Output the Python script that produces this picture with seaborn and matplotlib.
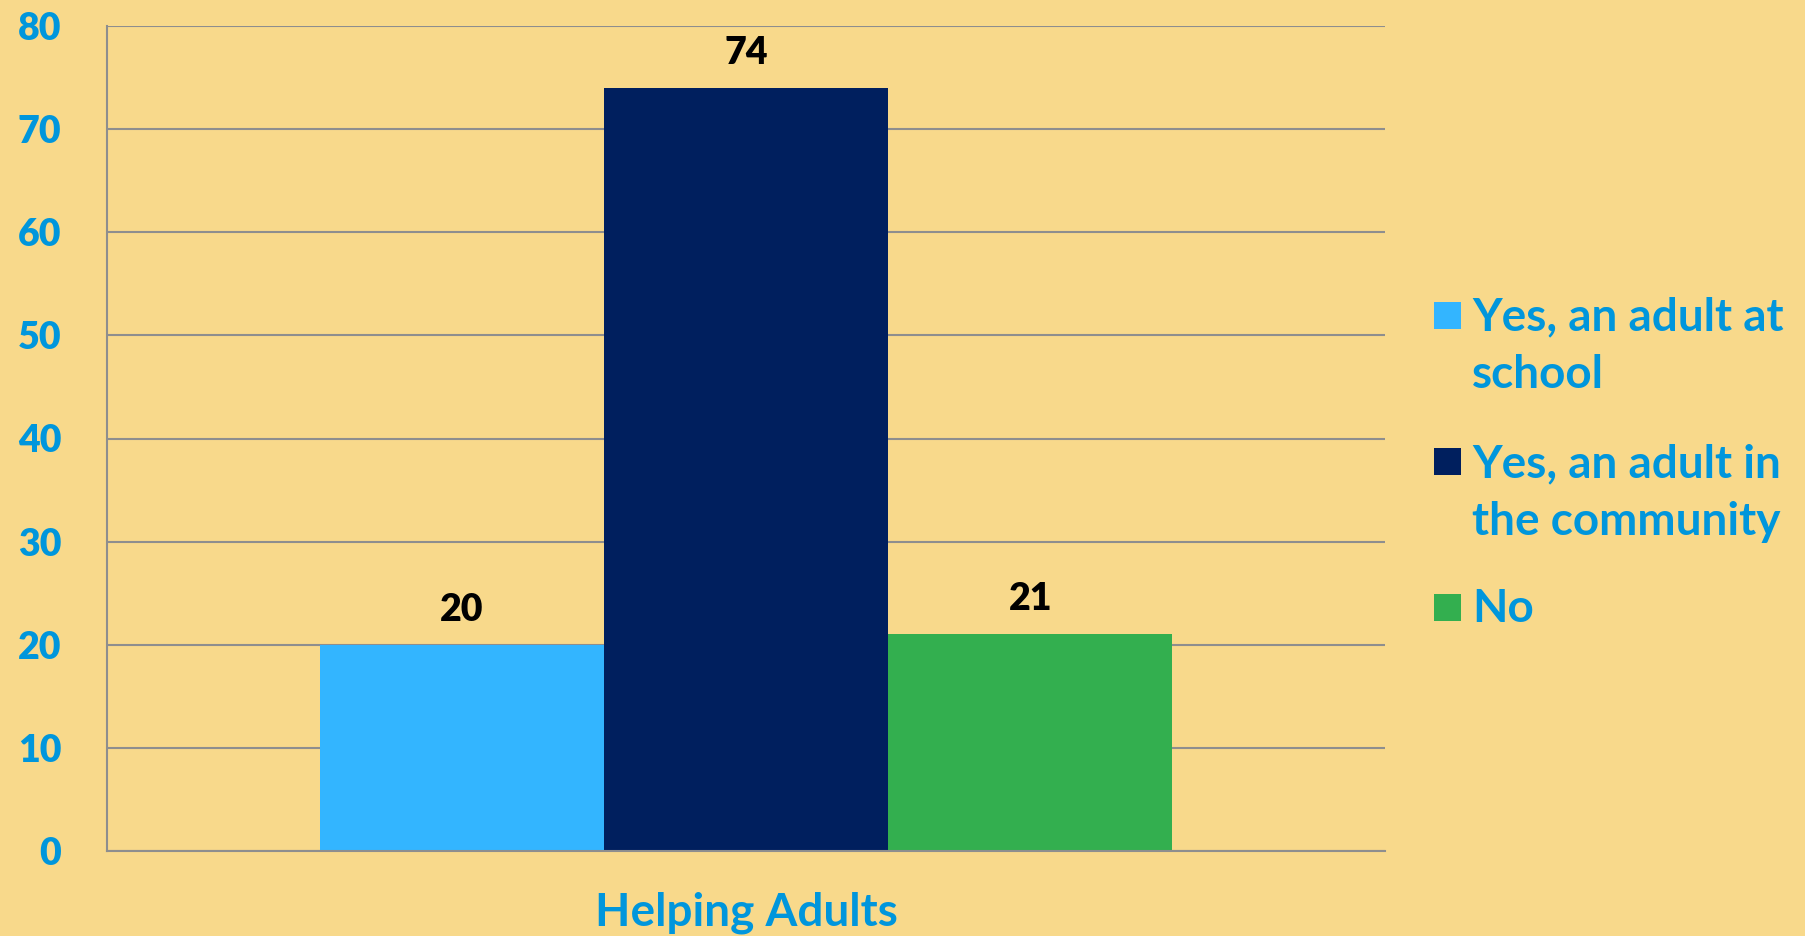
import matplotlib
matplotlib.use("Agg")
import matplotlib.pyplot as plt
from matplotlib.patches import Rectangle
import pandas as pd
import seaborn as sns

# Survey responses: who students can turn to for help
category = ["Helping Adults"]
responses = ["Yes, an adult at\nschool", "Yes, an adult in\nthe community", "No"]
counts = [20, 74, 21]
y_ticks = [0, 10, 20, 30, 40, 50, 60, 70, 80]

bar_colors = ["#33B5FF", "#001F5E", "#33AF4F"]
bg = "#F8D98B"
text_blue = "#0096DC"
line_gray = "#8E8E8E"

sns.set_theme(style="white")
plt.rcParams["font.family"] = ["Lato", "DejaVu Sans"]
plt.rcParams["font.weight"] = "bold"

W, H = 1806, 936
fig = plt.figure(figsize=(W / 100, H / 100), dpi=100, facecolor=bg)
ax = fig.add_axes([107 / W, 1 - 851 / H, (1385 - 107) / W, (851 - 26) / H])
ax.set_facecolor(bg)

df = pd.DataFrame({
    "group": category * len(responses),
    "response": responses,
    "count": counts,
})

sns.barplot(data=df, x="group", y="count", hue="response", hue_order=responses,
            palette=bar_colors, width=0.667, saturation=1, gap=0,
            legend=False, ax=ax, linewidth=0)

for cont in ax.containers:
    ax.bar_label(cont, fmt="%d", padding=13, fontsize=27, fontweight="heavy",
                 color="black")

ax.set_xlim(-0.5, 0.5)
ax.set_ylim(0, 80)
ax.set_yticks(y_ticks)
ax.set_axisbelow(True)
ax.yaxis.grid(True, color=line_gray, linewidth=1.5)
ax.xaxis.grid(False)

for side in ["top", "right"]:
    ax.spines[side].set_visible(False)
for side in ["left", "bottom"]:
    ax.spines[side].set_color(line_gray)
    ax.spines[side].set_linewidth(1.5)

ax.tick_params(axis="y", which="major", direction="out", length=11, width=1.5,
               color=line_gray, pad=22, labelsize=27, labelcolor=text_blue)
ax.set_xticks([0])
ax.set_xticklabels(category)
ax.set_xticks([-0.5, 0.5], minor=True)
ax.tick_params(axis="x", which="major", length=0, pad=29, labelsize=33,
               labelcolor=text_blue)
ax.tick_params(axis="x", which="minor", direction="out", length=11, width=1.5,
               color=line_gray)
for lbl in ax.get_yticklabels():
    lbl.set_fontweight("heavy")
for lbl in ax.get_xticklabels():
    lbl.set_fontweight("bold")
ax.set_xlabel("")
ax.set_ylabel("")

# Legend at the right: colour square beside the first line of each label
sq = 27
square_centers = [315, 461, 607]
baselines = [330, 477, 622]
line_step = 58
for color, label, yc, yb in zip(bar_colors, responses, square_centers, baselines):
    fig.add_artist(Rectangle((1434 / W, 1 - (yc + sq / 2) / H), sq / W, sq / H,
                             transform=fig.transFigure, facecolor=color,
                             edgecolor="none"))
    for i, line in enumerate(label.split("\n")):
        fig.text(1472 / W, 1 - (yb + i * line_step) / H, line, fontsize=33,
                 fontweight="bold", color=text_blue, va="baseline", ha="left")

fig.savefig("out.png", dpi=100, facecolor=bg)
